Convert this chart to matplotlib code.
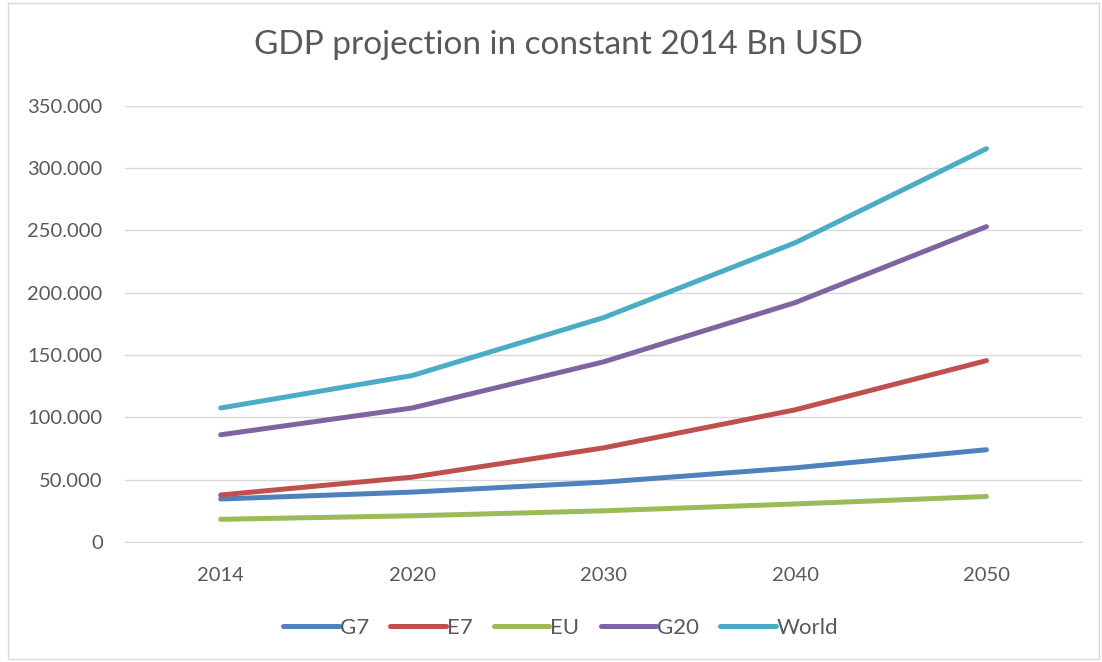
import matplotlib.pyplot as plt
from matplotlib.ticker import FuncFormatter, MultipleLocator
from matplotlib.patches import Rectangle

plt.rcParams['font.family'] = ['Lato', 'DejaVu Sans']

years = ['2014', '2020', '2030', '2040', '2050']
g7 = [34500, 40000, 48000, 59500, 74000]
e7 = [37700, 52000, 75500, 106000, 145500]
eu = [18200, 21000, 25000, 30500, 36500]
g20 = [86000, 107500, 144500, 192000, 253000]
world = [107500, 133500, 180000, 240000, 315500]

series = [('G7', g7, '#4f81bd'), ('E7', e7, '#c0504d'), ('EU', eu, '#9bbb59'),
          ('G20', g20, '#8064a2'), ('World', world, '#4bacc6')]

fig = plt.figure(figsize=(11.02, 6.62), dpi=100)
ax = fig.add_axes([0.1134, 0.1813, 0.8686, 0.659])

x = range(len(years))
for name, vals, col in series:
    ax.plot(x, vals, color=col, lw=3.6, solid_capstyle='round', solid_joinstyle='round', label=name)

ax.set_xlim(-0.5, len(years) - 0.5)
ax.set_ylim(0, 350000)
ax.set_xticks(list(x))
ax.set_xticklabels(years)
ax.yaxis.set_major_locator(MultipleLocator(50000))
ax.yaxis.set_major_formatter(FuncFormatter(lambda v, p: f'{int(v):,}'.replace(',', '.')))
ax.grid(axis='y', color='#d9d9d9', lw=1)
ax.set_axisbelow(True)
for s in ['top', 'right', 'left']:
    ax.spines[s].set_visible(False)
ax.spines['bottom'].set_color('#d9d9d9')
ax.tick_params(length=0, labelsize=14.5, colors='#595959')
ax.tick_params(axis='x', pad=18)
ax.tick_params(axis='y', pad=16)

fig.text(0.507, 0.932, 'GDP projection in constant 2014 Bn USD', ha='center', va='center',
         fontsize=24, color='#595959')

fig.legend(loc='center', bbox_to_anchor=(0.509, 0.052), ncol=5, frameon=False,
           fontsize=16, labelcolor='#595959', handlelength=2.5, handletextpad=0.05,
           columnspacing=0.95)

fig.patches.append(Rectangle((0.007, 0.004), 0.99, 0.992, transform=fig.transFigure,
                             fill=False, edgecolor='#d9d9d9', lw=1))

fig.savefig('out.png', dpi=100)
